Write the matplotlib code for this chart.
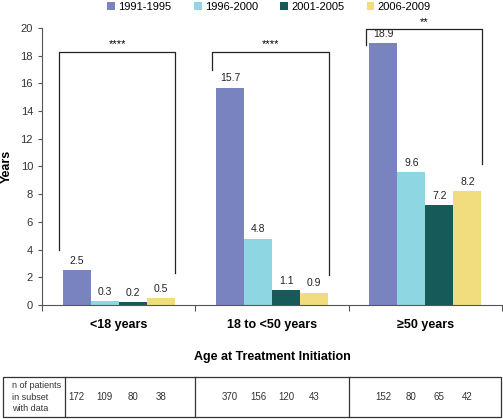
import numpy as np
import matplotlib
matplotlib.use('Agg')
import matplotlib.pyplot as plt
import matplotlib.transforms as mtransforms
from matplotlib.patches import Rectangle

plt.rcParams['font.family'] = ['Liberation Sans', 'DejaVu Sans']

# data
groups = ['<18 years', '18 to <50 years', '\u226550 years']
periods = ['1991-1995', '1996-2000', '2001-2005', '2006-2009']
colors = ['#7883c0', '#8ed6e2', '#165a5a', '#f1dc7e']
years_1991 = [2.5, 15.7, 18.9]
years_1996 = [0.3, 4.8, 9.6]
years_2001 = [0.2, 1.1, 7.2]
years_2006 = [0.5, 0.9, 8.2]
n_1991 = [172, 370, 152]
n_1996 = [109, 156, 80]
n_2001 = [80, 120, 65]
n_2006 = [38, 43, 42]
signif = ['****', '****', '**']

series = [years_1991, years_1996, years_2001, years_2006]
counts = [n_1991, n_1996, n_2001, n_2006]

fig = plt.figure(figsize=(5.03, 4.19), dpi=100)
ax = fig.add_axes([42/503, 1 - 305/419, 460/503, 277/419])

x = np.arange(len(groups))
w = 0.183
offsets = [-1.5*w, -0.5*w, 0.5*w, 1.5*w]

for vals, off, col, lab in zip(series, offsets, colors, periods):
    bars = ax.bar(x + off, vals, width=w, color=col, label=lab)
    for b, v in zip(bars, vals):
        ax.text(b.get_x() + b.get_width()/2, v + 0.3, '%.1f' % v,
                ha='center', va='bottom', fontsize=7.5, color='#222222')

# significance brackets (top, left end, right end)
bracket_top = [18.3, 18.3, 19.9]
bracket_left = [4.0, 17.0, 18.8]
bracket_right = [2.3, 2.2, 10.2]
for i in range(3):
    xl = x[i] - 0.39
    xr = x[i] + 0.37
    ax.plot([xl, xl, xr, xr], [bracket_left[i], bracket_top[i], bracket_top[i], bracket_right[i]],
            color='#222222', lw=0.9, clip_on=False)
    ax.text((xl + xr)/2, bracket_top[i] + 0.15, signif[i], ha='center', va='bottom',
            fontsize=8, clip_on=False)

ax.set_xlim(-0.5, 2.5)
ax.set_ylim(0, 20)
ax.set_yticks(range(0, 21, 2))
ax.tick_params(axis='y', labelsize=8, length=3, width=0.8, color='#555555', labelcolor='#333333')
ax.set_xticks([-0.5, 0.5, 1.5, 2.5])
ax.set_xticklabels([])
ax.tick_params(axis='x', which='major', length=4, width=0.8, color='#555555')
ax.set_xticks(x, minor=True)
ax.set_xticklabels(groups, minor=True, fontweight='bold', fontsize=9)
ax.tick_params(axis='x', which='minor', length=0, pad=10)
for s in ['top', 'right']:
    ax.spines[s].set_visible(False)
for s in ['left', 'bottom']:
    ax.spines[s].set_color('#555555')
    ax.spines[s].set_linewidth(0.8)
ax.set_ylabel('Years', fontweight='bold', fontsize=9)
ax.yaxis.set_label_coords(-0.063, 0.5)

fig.legend(loc='upper center', bbox_to_anchor=(0.535, 1.02), ncol=4, frameon=False,
           fontsize=8, handlelength=0.7, handleheight=0.7, handletextpad=0.3,
           columnspacing=2.0)

fig.text(272/503, 1 - 357/419, 'Age at Treatment Initiation', ha='center', va='center',
         fontweight='bold', fontsize=9)

# table of patient counts
t_top = 1 - 377/419
t_bot = 1 - 417/419
fig.add_artist(Rectangle((3/503, t_bot), 498/503, t_top - t_bot, transform=fig.transFigure,
                         fill=False, ec='#333333', lw=0.9))
fig.add_artist(plt.Line2D([65/503, 65/503], [t_bot, t_top], transform=fig.transFigure,
                          color='#333333', lw=0.9))
blend = mtransforms.blended_transform_factory(ax.transData, fig.transFigure)
for xd in [0.5, 1.5]:
    fig.add_artist(plt.Line2D([xd, xd], [t_bot, t_top], transform=blend, color='#333333', lw=0.9))
t_mid = 1 - 397/419
for nvals, off in zip(counts, offsets):
    for i, n in enumerate(nvals):
        fig.text(x[i] + off, t_mid, str(n), transform=blend, ha='center', va='center',
                 fontsize=7, color='#333333')
fig.text(12/503, t_mid, 'n of patients\nin subset\nwith data', ha='left', va='center',
         fontsize=6.5, color='#333333', linespacing=1.35)

fig.savefig('out.png', dpi=100)
